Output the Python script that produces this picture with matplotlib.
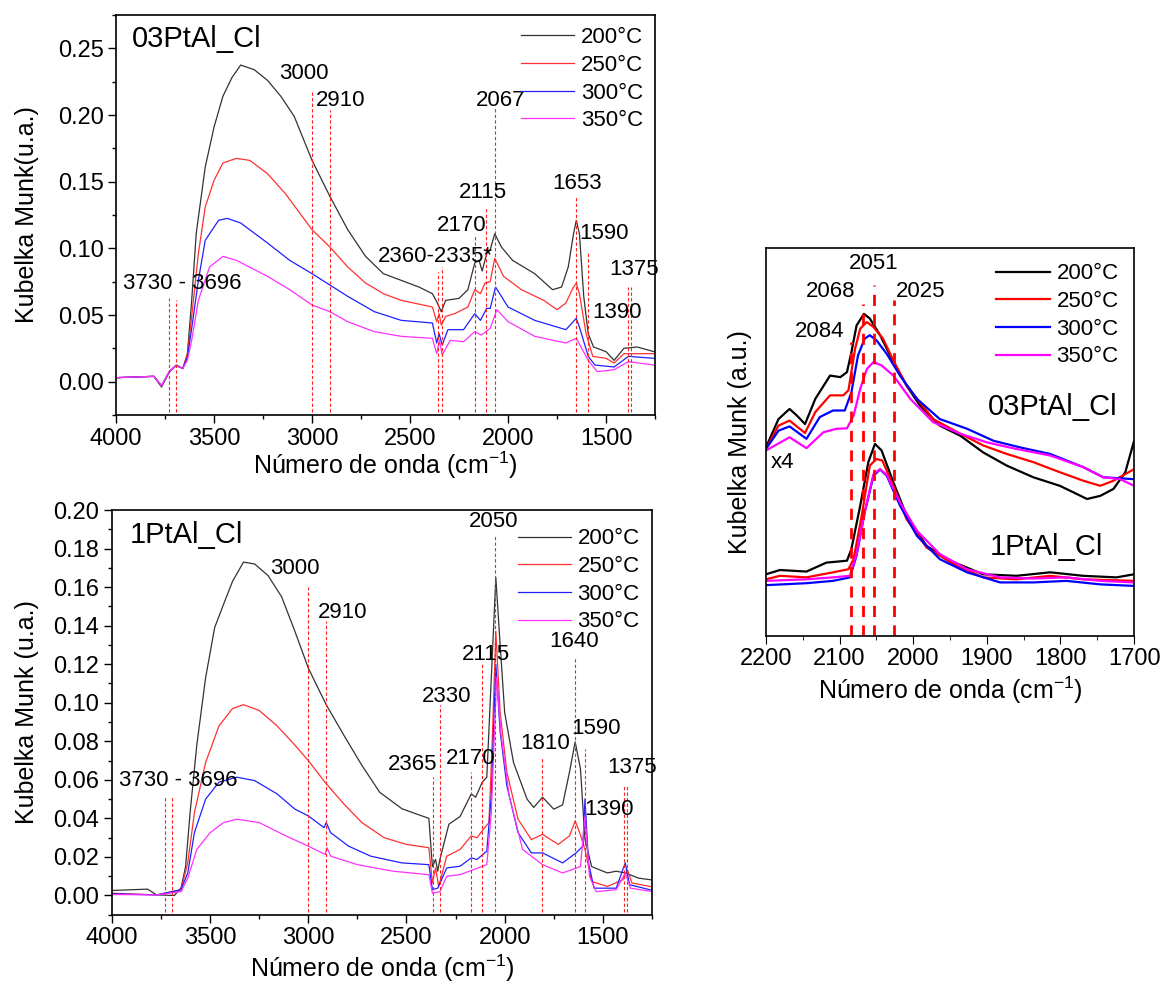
import matplotlib
matplotlib.use("Agg")
import matplotlib.pyplot as plt
from matplotlib.ticker import MultipleLocator

plt.rcParams['font.family'] = ['Liberation Sans', 'DejaVu Sans']
plt.rcParams['mathtext.fontset'] = 'custom'
plt.rcParams['mathtext.rm'] = 'Liberation Sans'

temps = ['200°C', '250°C', '300°C', '350°C']
colors_left = ['#333333', '#ff3030', '#2020ff', '#ff30ff']
colors_right = ['black', 'red', 'blue', 'magenta']

# ---------------- Top-left panel: 03PtAl_Cl ----------------
top_x_200 = [4000,3807,3768,3727,3693,3659,3636,3614,3591,3545,3500,3455,3409,3364,3295,3227,3159,3091,3000,2909,2818,2727,2636,2545,2455,2386,2364,2341,2318,2250,2205,2170,2148,2132,2109,2091,2068,2034,1977,1864,1773,1727,1693,1666,1652,1636,1614,1591,1564,1500,1459,1409,1341,1255]
top_y_200 = [0.003,0.004,-0.004,0.0075,0.0125,0.010,0.021,0.061,0.111,0.161,0.191,0.214,0.228,0.2375,0.234,0.226,0.214,0.199,0.166,0.139,0.114,0.094,0.081,0.076,0.071,0.066,0.060,0.0525,0.061,0.0625,0.069,0.089,0.091,0.083,0.096,0.099,0.111,0.101,0.091,0.081,0.069,0.071,0.086,0.111,0.121,0.111,0.064,0.036,0.026,0.0225,0.016,0.025,0.026,0.0225]
top_x_250 = [4000,3807,3768,3727,3693,3659,3636,3614,3580,3545,3500,3455,3386,3318,3227,3136,3000,2909,2818,2727,2636,2545,2386,2364,2352,2341,2318,2273,2205,2170,2141,2118,2091,2068,2023,1932,1818,1750,1705,1670,1652,1636,1602,1568,1500,1459,1409,1255]
top_y_250 = [0.003,0.004,-0.003,0.0075,0.012,0.010,0.02,0.049,0.096,0.131,0.151,0.164,0.1675,0.166,0.156,0.141,0.114,0.101,0.086,0.074,0.066,0.061,0.056,0.045,0.051,0.0425,0.049,0.051,0.056,0.069,0.066,0.074,0.075,0.0925,0.079,0.069,0.061,0.054,0.059,0.07,0.074,0.066,0.036,0.019,0.0175,0.014,0.021,0.021]
top_x_300 = [4000,3807,3768,3727,3693,3659,3636,3614,3580,3545,3477,3432,3364,3227,3114,3000,2909,2818,2682,2545,2386,2364,2352,2336,2307,2227,2170,2141,2109,2091,2064,2000,1864,1705,1652,1636,1591,1557,1459,1386,1255]
top_y_300 = [0.003,0.004,-0.003,0.008,0.012,0.010,0.018,0.040,0.076,0.106,0.121,0.1225,0.119,0.104,0.091,0.081,0.0725,0.064,0.0525,0.046,0.044,0.029,0.036,0.0275,0.039,0.039,0.051,0.046,0.055,0.055,0.071,0.056,0.046,0.039,0.0475,0.041,0.019,0.0125,0.011,0.019,0.0175]
top_x_350 = [4000,3807,3768,3727,3693,3659,3636,3614,3580,3523,3455,3386,3227,3114,3000,2909,2818,2682,2545,2386,2364,2350,2336,2295,2227,2170,2136,2091,2057,2000,1864,1705,1652,1591,1545,1459,1386,1255]
top_y_350 = [0.003,0.004,-0.003,0.008,0.012,0.010,0.016,0.031,0.061,0.086,0.094,0.091,0.079,0.069,0.0575,0.0525,0.045,0.0375,0.034,0.0325,0.021,0.031,0.02,0.031,0.03,0.0375,0.035,0.04,0.054,0.045,0.034,0.029,0.0325,0.016,0.0075,0.009,0.015,0.0125]

top_vline_x = [3730, 3696, 3000, 2910, 2360, 2335, 2170, 2115, 2067, 1653, 1590, 1390, 1375]
top_vline_top = [0.0625, 0.061, 0.2175, 0.204, 0.0825, 0.086, 0.111, 0.131, 0.205, 0.139, 0.0975, 0.071, 0.071]
top_lbl_text = ['3730 - 3696', '3000', '2910', '2360-2335*', '2170', '2115', '2067', '1653', '1590', '1390', '1375']
top_lbl_x = [3966, 3170, 2982, 2664, 2364, 2250, 2164, 1777, 1636, 1573, 1482]
top_lbl_y = [0.074, 0.231, 0.211, 0.094, 0.117, 0.142, 0.211, 0.149, 0.111, 0.052, 0.084]

# ---------------- Bottom-left panel: 1PtAl_Cl ----------------
bot_x_200 = [4000,3818,3773,3682,3648,3625,3602,3568,3523,3477,3432,3386,3330,3273,3205,3136,3068,3000,2909,2818,2727,2636,2523,2386,2368,2352,2341,2330,2284,2227,2170,2148,2114,2091,2068,2045,2023,2000,1955,1886,1852,1807,1750,1705,1670,1641,1614,1591,1557,1477,1432,1386,1318,1245]
bot_y_200 = [0.0026,0.0033,0.0003,0.0,0.004,0.015,0.043,0.078,0.113,0.139,0.151,0.163,0.173,0.172,0.166,0.155,0.137,0.118,0.099,0.083,0.0675,0.0535,0.045,0.040,0.015,0.0187,0.0126,0.0187,0.037,0.041,0.0527,0.051,0.0588,0.0614,0.113,0.165,0.130,0.095,0.069,0.050,0.0457,0.051,0.0448,0.047,0.064,0.0797,0.0657,0.029,0.015,0.0117,0.0126,0.0117,0.009,0.008]
bot_x_250 = [4000,3773,3648,3614,3580,3523,3455,3386,3330,3250,3159,3068,3000,2909,2818,2727,2614,2500,2386,2368,2352,2336,2295,2227,2170,2141,2102,2080,2064,2045,2023,1989,1932,1864,1807,1727,1670,1641,1618,1591,1557,1477,1398,1375,1352,1245]
bot_y_250 = [0.0012,0.0003,0.003,0.017,0.043,0.069,0.088,0.097,0.099,0.096,0.088,0.078,0.070,0.058,0.0474,0.0378,0.030,0.0265,0.0248,0.0065,0.0143,0.0047,0.0204,0.0239,0.0309,0.030,0.0352,0.0378,0.078,0.137,0.095,0.064,0.0396,0.029,0.0317,0.0265,0.0309,0.0387,0.0326,0.0239,0.0073,0.0047,0.0082,0.0134,0.0065,0.0044]
bot_x_300 = [4000,3773,3648,3614,3580,3523,3455,3364,3273,3159,3068,3000,2920,2909,2886,2795,2682,2523,2386,2368,2341,2295,2227,2170,2141,2091,2068,2045,2023,1989,1932,1864,1807,1705,1636,1602,1591,1573,1545,1432,1386,1364,1245]
bot_y_300 = [0.0009,0.0003,0.003,0.0117,0.0326,0.050,0.0588,0.0614,0.0596,0.0527,0.0448,0.0413,0.0352,0.0378,0.0326,0.0256,0.0204,0.0169,0.016,0.003,0.0038,0.0143,0.0152,0.0195,0.0187,0.023,0.0518,0.120,0.085,0.057,0.0326,0.0221,0.0221,0.0169,0.0221,0.0256,0.050,0.0169,0.0038,0.0038,0.0169,0.0056,0.0026]
bot_x_350 = [4000,3773,3648,3614,3568,3500,3432,3364,3250,3114,3000,2914,2905,2886,2750,2568,2386,2368,2330,2295,2227,2159,2091,2068,2041,2018,1977,1909,1807,1705,1614,1591,1568,1534,1432,1386,1359,1245]
bot_y_350 = [0.0005,0.0003,0.002,0.009,0.0239,0.0326,0.0378,0.0396,0.0378,0.0309,0.0256,0.0213,0.0248,0.0204,0.016,0.0126,0.0108,0.0012,0.002,0.010,0.0108,0.0134,0.016,0.043,0.113,0.083,0.0518,0.0239,0.016,0.0117,0.015,0.0413,0.010,0.002,0.003,0.0117,0.0038,0.002]

bot_vline_x = [3730, 3696, 3000, 2910, 2365, 2330, 2170, 2115, 2050, 1810, 1640, 1590, 1390, 1375]
bot_vline_top = [0.0518, 0.051, 0.160, 0.1425, 0.0614, 0.0989, 0.064, 0.120, 0.187, 0.0718, 0.124, 0.076, 0.057, 0.057]
bot_lbl_text = ['3730 - 3696', '3000', '2910', '2365', '2330', '2170', '2115', '2050', '1810', '1640', '1590', '1390', '1375']
bot_lbl_x = [3966, 3193, 2950, 2595, 2420, 2300, 2216, 2182, 1920, 1773, 1659, 1595, 1477]
bot_lbl_y = [0.0596, 0.1695, 0.147, 0.068, 0.103, 0.071, 0.125, 0.194, 0.079, 0.132, 0.0867, 0.0448, 0.0666]

# ---------------- Right panel: zoom 2200-1700 (arbitrary units) ----------------
r03_x_200 = [2200,2183,2168,2158,2147,2133,2113,2099,2090,2084,2077,2067,2059,2045,2027,2009,1991,1964,1936,1905,1873,1837,1801,1778,1764,1746,1728,1712,1700]
r03_y_200 = [48.6,55.9,58.5,56.8,54.6,61.1,67.1,66.7,68.0,73.1,80.0,83.0,81.8,77.5,70.6,64.5,59.4,54.2,51.6,47.3,43.9,40.9,38.7,36.6,35.3,36.1,37.9,42.2,50.3]
r03_x_250 = [2200,2183,2168,2147,2133,2113,2095,2088,2079,2072,2063,2054,2041,2027,2009,1973,1936,1905,1873,1837,1801,1769,1746,1728,1700]
r03_y_250 = [48.2,54.2,55.5,52.3,57.7,62.0,62.0,63.3,74.0,79.2,80.9,79.6,76.6,71.0,64.5,55.9,52.1,49.1,46.9,44.8,42.2,40.0,38.7,40.0,43.0]
r03_x_300 = [2200,2183,2168,2145,2127,2109,2093,2084,2075,2066,2059,2050,2036,2018,1995,1964,1927,1891,1855,1814,1769,1742,1700]
r03_y_300 = [48.2,52.9,54.0,50.8,56.4,58.1,58.1,62.8,72.3,76.6,77.5,76.2,72.7,67.1,61.1,55.9,53.4,50.3,48.6,46.9,43.5,40.9,40.4]
r03_x_350 = [2200,2168,2145,2122,2104,2090,2081,2072,2063,2054,2043,2027,2004,1973,1936,1900,1860,1814,1769,1742,1719,1700]
r03_y_350 = [47.8,51.2,48.4,52.5,53.4,53.5,56.8,63.7,68.8,70.6,69.7,67.1,61.1,55.1,52.1,49.9,48.2,46.5,43.5,40.9,40.4,38.7]

r1_x_200 = [2200,2181,2145,2118,2090,2084,2072,2061,2052,2043,2027,2009,1982,1950,1905,1860,1814,1769,1724,1700]
r1_y_200 = [15.9,17.0,16.6,18.9,19.4,22.4,33.6,44.8,49.5,47.8,39.6,31.0,23.2,19.4,15.9,15.5,16.4,15.5,15.1,15.9]
r1_x_250 = [2200,2181,2145,2109,2088,2081,2070,2059,2050,2042,2027,2009,1982,1945,1905,1860,1814,1769,1700]
r1_y_250 = [14.6,15.5,15.1,16.4,17.2,19.8,31.0,43.9,45.6,45.2,38.7,30.1,22.8,18.5,15.1,14.6,15.5,14.6,14.2]
r1_x_300 = [2200,2145,2109,2086,2077,2066,2054,2045,2036,2018,1995,1964,1927,1882,1837,1792,1746,1700]
r1_y_300 = [13.1,13.6,14.2,15.1,20.7,31.8,41.3,42.9,41.3,33.6,25.8,19.8,16.4,13.8,13.8,14.2,13.3,12.9]
r1_x_350 = [2200,2145,2109,2086,2077,2066,2054,2045,2036,2018,1995,1964,1927,1882,1837,1792,1746,1700]
r1_y_350 = [14.2,14.6,15.1,15.5,21.1,31.8,41.7,43.0,41.5,34.4,27.1,21.1,17.2,15.1,14.8,15.1,14.2,13.8]

r_vline_x = [2084, 2068, 2053, 2026]
r_vline_top = [75.7, 85.6, 90.4, 86.5]
r_lbl_text = ['2084', '2068', '2051', '2025']
r_lbl_x = [2161, 2146, 2087, 2023]
r_lbl_y = [78.5, 88.8, 95.9, 88.8]

TICK = 17
LAB = 18
ANN = 16
LEG = 16
SAMPLE = 21

fig = plt.figure(figsize=(11.65, 9.9), dpi=100)

def style_left(ax):
    ax.tick_params(axis='both', which='major', direction='out', length=6, width=1, labelsize=TICK,
                   pad=3, top=False, right=False)
    ax.tick_params(axis='both', which='minor', direction='out', length=3, width=1, top=False, right=False)
    for s in ax.spines.values():
        s.set_linewidth(1.2)

xlabel = r'Número de onda (cm$^{\mathregular{-1}}$)'

def place_labels(ax, xl_y, yl_x):
    ax.xaxis.label.set_va('center')
    ax.yaxis.label.set_va('center')
    ax.xaxis.set_label_coords(0.5, xl_y)
    ax.yaxis.set_label_coords(yl_x, 0.5)

# Top-left
ax1 = fig.add_axes([0.0996, 0.5808, 0.4627, 0.404])
series_top = [(top_x_200, top_y_200), (top_x_250, top_y_250), (top_x_300, top_y_300), (top_x_350, top_y_350)]
for (xs, ys), c, t in zip(series_top, colors_left, temps):
    ax1.plot(xs, ys, color=c, lw=0.9, label=t)
ax1.vlines(top_vline_x, -0.0225, top_vline_top, colors='#ff2020', linestyles=(0, (3, 2)), lw=0.8)
for t, x, y in zip(top_lbl_text, top_lbl_x, top_lbl_y):
    ax1.text(x, y, t, ha='left', va='center', fontsize=ANN)
ax1.text(3920, 0.257, '03PtAl_Cl', ha='left', va='center', fontsize=SAMPLE)
ax1.set_xlim(4000, 1250)
ax1.set_ylim(-0.025, 0.275)
ax1.xaxis.set_major_locator(MultipleLocator(500))
ax1.xaxis.set_minor_locator(MultipleLocator(250))
ax1.yaxis.set_major_locator(MultipleLocator(0.05))
ax1.yaxis.set_minor_locator(MultipleLocator(0.025))
ax1.yaxis.set_major_formatter(plt.FormatStrFormatter('%.2f'))
ax1.set_xlabel(xlabel, fontsize=LAB)
ax1.set_ylabel('Kubelka Munk(u.a.)', fontsize=LAB)
place_labels(ax1, -0.125, -0.165)
ax1.legend(loc='upper right', frameon=False, handlelength=2.4, labelspacing=0.3,
           borderaxespad=0.15, handletextpad=0.3, fontsize=LEG)
style_left(ax1)

# Bottom-left
ax2 = fig.add_axes([0.0961, 0.0758, 0.4635, 0.409])
series_bot = [(bot_x_200, bot_y_200), (bot_x_250, bot_y_250), (bot_x_300, bot_y_300), (bot_x_350, bot_y_350)]
for (xs, ys), c, t in zip(series_bot, colors_left, temps):
    ax2.plot(xs, ys, color=c, lw=0.9, label=t)
ax2.vlines(bot_vline_x, -0.0084, bot_vline_top, colors='#ff2020', linestyles=(0, (3, 2)), lw=0.8)
for t, x, y in zip(bot_lbl_text, bot_lbl_x, bot_lbl_y):
    ax2.text(x, y, t, ha='left', va='center', fontsize=ANN)
ax2.text(3909, 0.187, '1PtAl_Cl', ha='left', va='center', fontsize=SAMPLE)
ax2.set_xlim(4000, 1250)
ax2.set_ylim(-0.0101, 0.20)
ax2.xaxis.set_major_locator(MultipleLocator(500))
ax2.xaxis.set_minor_locator(MultipleLocator(250))
ax2.yaxis.set_major_locator(MultipleLocator(0.02))
ax2.yaxis.set_minor_locator(MultipleLocator(0.01))
ax2.yaxis.set_major_formatter(plt.FormatStrFormatter('%.2f'))
ax2.set_xlabel(xlabel, fontsize=LAB)
ax2.set_ylabel('Kubelka Munk (u.a.)', fontsize=LAB)
place_labels(ax2, -0.131, -0.157)
ax2.legend(loc='upper right', frameon=False, handlelength=2.4, labelspacing=0.3,
           borderaxespad=0.15, handletextpad=0.3, bbox_to_anchor=(1.0, 0.985), fontsize=LEG)
style_left(ax2)

# Right panel
ax3 = fig.add_axes([0.6575, 0.3576, 0.316, 0.392])
for xs, ys, c, t in zip([r03_x_200, r03_x_250, r03_x_300, r03_x_350],
                        [r03_y_200, r03_y_250, r03_y_300, r03_y_350], colors_right, temps):
    ax3.plot(xs, ys, color=c, lw=1.6, label=t)
for xs, ys, c in zip([r1_x_200, r1_x_250, r1_x_300, r1_x_350],
                     [r1_y_200, r1_y_250, r1_y_300, r1_y_350], colors_right):
    ax3.plot(xs, ys, color=c, lw=1.6)
ax3.vlines(r_vline_x, 0, r_vline_top, colors='red', linestyles=(0, (4, 3)), lw=2.0)
for t, x, y in zip(r_lbl_text, r_lbl_x, r_lbl_y):
    ax3.text(x, y, t, ha='left', va='center', fontsize=ANN)
ax3.text(1899, 59, '03PtAl_Cl', ha='left', va='center', fontsize=SAMPLE)
ax3.text(1896, 22.8, '1PtAl_Cl', ha='left', va='center', fontsize=SAMPLE)
ax3.text(2194, 44.8, 'x4', ha='left', va='center', fontsize=ANN)
ax3.set_xlim(2200, 1700)
ax3.set_ylim(0, 100)
ax3.set_yticks([])
ax3.xaxis.set_major_locator(MultipleLocator(100))
ax3.xaxis.set_minor_locator(MultipleLocator(50))
ax3.tick_params(axis='x', which='major', direction='out', length=6, labelsize=TICK, pad=3)
ax3.tick_params(axis='x', which='minor', direction='out', length=3)
ax3.set_xlabel(xlabel, fontsize=LAB)
ax3.set_ylabel('Kubelka Munk (a.u.)', fontsize=LAB)
place_labels(ax3, -0.139, -0.07)
ax3.legend(loc='upper right', frameon=False, handlelength=2.4, labelspacing=0.3,
           borderaxespad=0.3, handletextpad=0.3, fontsize=LEG)
for s in ax3.spines.values():
    s.set_linewidth(1.2)

fig.savefig('out.png', dpi=100)
